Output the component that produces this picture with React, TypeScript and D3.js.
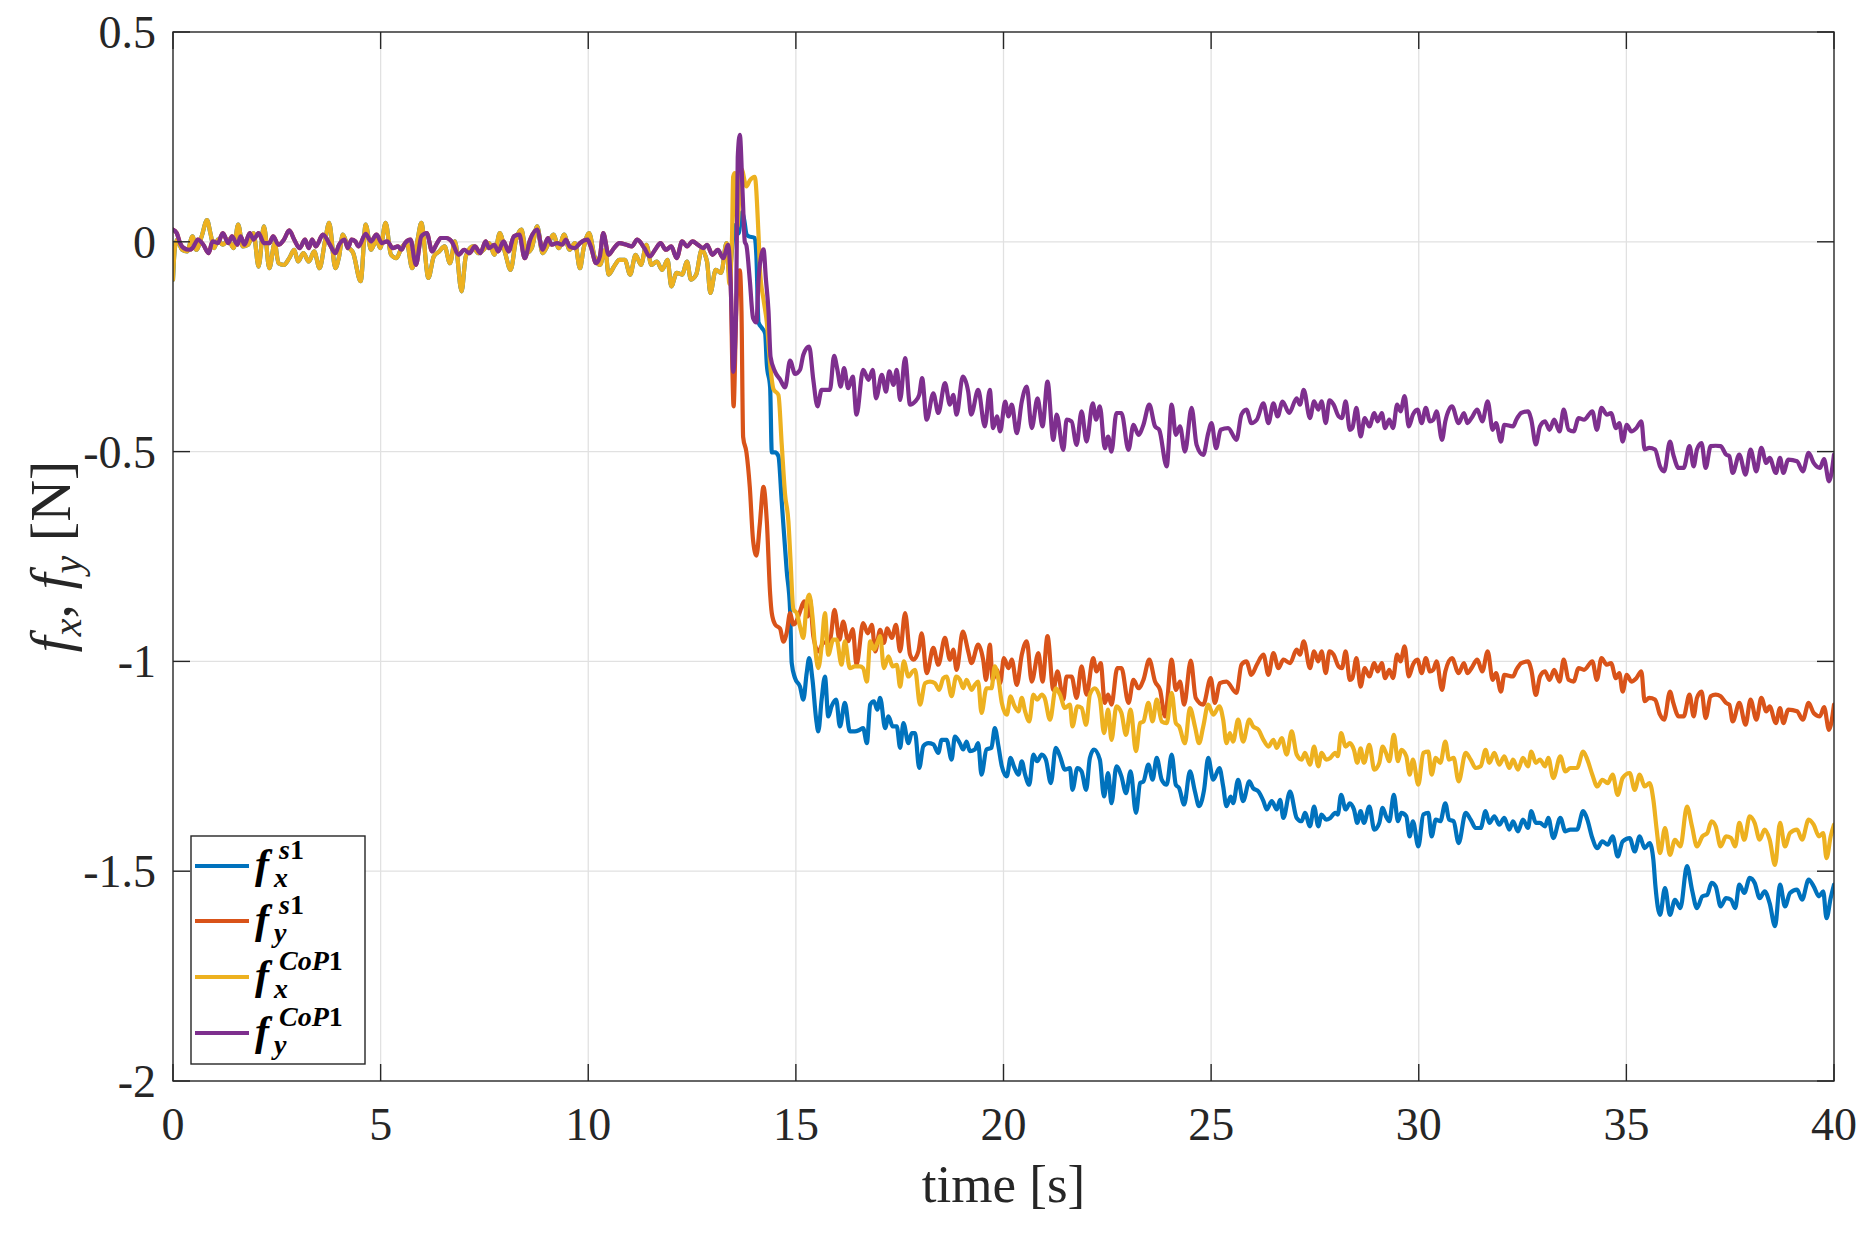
import React from "react";
import * as d3 from "d3";

type P = [number, number];

const xTicks = [0, 5, 10, 15, 20, 25, 30, 35, 40];
const yTicks = [0.5, 0, -0.5, -1, -1.5, -2];
const yTickLabels = ["0.5", "0", "-0.5", "-1", "-1.5", "-2"];

// f_y^CoP1 (purple)
const fyCoPEarly: P[] = [[0,0.029],[0.09,0.021],[0.17,-0.003],[0.26,-0.015],[0.39,-0.019],[0.47,-0.015],[0.60,0.005],[0.73,-0.007],[0.86,-0.027],[0.95,0.001],[1.08,-0.003],[1.20,0.021],[1.33,-0.003],[1.42,0.013],[1.55,-0.007],[1.63,0.013],[1.72,-0.007],[1.85,0.021],[1.94,0.005],[2.06,0.021],[2.19,-0.003],[2.32,-0.003],[2.41,0.013],[2.54,-0.007],[2.67,0.005],[2.80,0.027],[2.92,0.005],[3.05,-0.015],[3.18,0.005],[3.27,-0.015],[3.35,0.005],[3.44,-0.011],[3.61,0.017],[3.78,-0.007],[3.91,-0.027],[4.00,-0.007],[4.13,0.005],[4.21,-0.015],[4.30,0.005],[4.39,0.001],[4.47,-0.011],[4.64,0.019],[4.77,0.001],[4.90,0.017],[5.03,-0.003],[5.16,0.001],[5.29,-0.015],[5.42,-0.011],[5.50,-0.019],[5.59,-0.003],[5.72,0.005],[5.85,-0.055],[5.98,0.013],[6.11,0.021],[6.24,-0.023],[6.36,-0.003],[6.45,0.009],[6.58,0.009],[6.71,0.001],[6.88,-0.031],[7.01,-0.019],[7.14,-0.027],[7.27,-0.011],[7.40,-0.027],[7.53,0.001],[7.61,-0.015],[7.74,-0.007],[7.83,-0.023],[7.96,0.001],[8.08,-0.023],[8.21,0.013],[8.34,0.017],[8.47,-0.039],[8.60,0.005],[8.77,0.029],[8.90,-0.019],[9.03,0.009],[9.12,-0.007],[9.25,-0.003],[9.37,-0.007],[9.46,0.005],[9.55,-0.011],[9.68,-0.015],[9.80,-0.003],[9.98,0.005],[10.06,-0.011],[10.19,-0.051],[10.28,-0.035],[10.36,0.021],[10.49,-0.031],[10.62,-0.015],[10.75,-0.003],[10.92,-0.007],[11.05,-0.011],[11.18,0.005],[11.35,-0.015],[11.48,-0.035],[11.61,-0.019],[11.74,-0.003],[11.87,-0.019],[12.00,-0.011],[12.13,-0.039],[12.26,0.001],[12.38,-0.011],[12.51,0.001],[12.64,-0.007],[12.77,-0.015],[12.86,-0.007],[12.99,-0.031],[13.12,-0.019],[13.25,-0.039],[13.37,-0.007]];
const fyCoPSpike: P[] = [[13.45,-0.164],[13.49,-0.310],[13.56,-0.164],[13.60,0.201],[13.65,0.255],[13.72,0.109],[13.77,0.0],[13.81,-0.009],[13.89,-0.091],[13.97,-0.182],[14.05,-0.192],[14.10,-0.091],[14.18,-0.027],[14.22,-0.018],[14.28,-0.091],[14.34,-0.164],[14.39,-0.274],[14.50,-0.310],[14.62,-0.328],[14.74,-0.347],[14.86,-0.283],[14.98,-0.315]];
const fyCoPMid: P[] = [[15.10,-0.305],[15.18,-0.269],[15.32,-0.250],[15.42,-0.329],[15.52,-0.392],[15.62,-0.353],[15.82,-0.353],[15.92,-0.272],[16.00,-0.305],[16.08,-0.345],[16.16,-0.301],[16.26,-0.349],[16.37,-0.321],[16.46,-0.412],[16.62,-0.305],[16.75,-0.329],[16.85,-0.305],[16.93,-0.373],[17.07,-0.317],[17.17,-0.357],[17.25,-0.309],[17.35,-0.341],[17.43,-0.305],[17.51,-0.377],[17.63,-0.277],[17.75,-0.388],[17.87,-0.381],[17.97,-0.365],[18.04,-0.325],[18.15,-0.424],[18.31,-0.361],[18.43,-0.408],[18.59,-0.337],[18.71,-0.388],[18.79,-0.365],[18.87,-0.412],[19.02,-0.321],[19.15,-0.357],[19.22,-0.412],[19.39,-0.353],[19.55,-0.440],[19.67,-0.353],[19.75,-0.444],[19.84,-0.416],[19.92,-0.452],[20.04,-0.381],[20.12,-0.416],[20.20,-0.388],[20.32,-0.456],[20.44,-0.381],[20.56,-0.345],[20.68,-0.444],[20.82,-0.373],[20.94,-0.440],[21.06,-0.333],[21.20,-0.472],[21.28,-0.412],[21.44,-0.496],[21.52,-0.424],[21.64,-0.428],[21.76,-0.484],[21.88,-0.404],[22.00,-0.476],[22.15,-0.385],[22.23,-0.424],[22.32,-0.392],[22.44,-0.492],[22.52,-0.464],[22.60,-0.500],[22.72,-0.408],[22.84,-0.408],[23.01,-0.496],[23.13,-0.436],[23.25,-0.460],[23.37,-0.436],[23.51,-0.388],[23.65,-0.440],[23.75,-0.448],[23.93,-0.535],[24.05,-0.388],[24.15,-0.460],[24.25,-0.440],[24.37,-0.500],[24.53,-0.396],[24.65,-0.484],[24.81,-0.508],[24.93,-0.456],[25.01,-0.432],[25.12,-0.492],[25.23,-0.448],[25.41,-0.444],[25.61,-0.472],[25.73,-0.412],[25.85,-0.400],[25.97,-0.432],[26.10,-0.424],[26.26,-0.385],[26.38,-0.432],[26.50,-0.385],[26.60,-0.416],[26.72,-0.381],[26.88,-0.408],[27.06,-0.373],[27.14,-0.388],[27.23,-0.353]];
const fyCoPLate: P[] = [[27.38,-0.420],[27.48,-0.380],[27.58,-0.400],[27.66,-0.380],[27.76,-0.432],[27.85,-0.378],[27.95,-0.388],[28.07,-0.416],[28.15,-0.420],[28.24,-0.380],[28.34,-0.448],[28.40,-0.444],[28.50,-0.396],[28.60,-0.464],[28.70,-0.420],[28.81,-0.440],[28.93,-0.408],[29.01,-0.428],[29.11,-0.408],[29.19,-0.444],[29.29,-0.424],[29.38,-0.444],[29.48,-0.388],[29.56,-0.404],[29.66,-0.368],[29.76,-0.440],[29.86,-0.412],[29.97,-0.400],[30.07,-0.432],[30.17,-0.396],[30.27,-0.428],[30.35,-0.424],[30.43,-0.404],[30.56,-0.472],[30.64,-0.428],[30.80,-0.392],[30.96,-0.432],[31.09,-0.408],[31.17,-0.432],[31.27,-0.420],[31.41,-0.400],[31.53,-0.428],[31.66,-0.380],[31.78,-0.448],[31.86,-0.432],[31.98,-0.476],[32.06,-0.436],[32.27,-0.440],[32.35,-0.424],[32.47,-0.408],[32.63,-0.404],[32.71,-0.424],[32.82,-0.483],[32.92,-0.440],[33.04,-0.428],[33.15,-0.448],[33.26,-0.424],[33.39,-0.452],[33.49,-0.400],[33.61,-0.448],[33.73,-0.452],[33.85,-0.420],[33.98,-0.424],[34.18,-0.404],[34.29,-0.448],[34.40,-0.396],[34.53,-0.412],[34.63,-0.408],[34.75,-0.444],[34.83,-0.432],[34.91,-0.476],[35.01,-0.436],[35.12,-0.452],[35.24,-0.444],[35.36,-0.428],[35.44,-0.495],[35.55,-0.491],[35.69,-0.495],[35.81,-0.535],[35.91,-0.547],[36.05,-0.476],[36.13,-0.507],[36.26,-0.539],[36.38,-0.539],[36.52,-0.487],[36.62,-0.535],[36.70,-0.495],[36.81,-0.480],[36.91,-0.539],[37.03,-0.487],[37.15,-0.486],[37.27,-0.487],[37.40,-0.507],[37.48,-0.511],[37.56,-0.551],[37.72,-0.507],[37.87,-0.555],[37.99,-0.495],[38.13,-0.547],[38.25,-0.491],[38.37,-0.527],[38.45,-0.515],[38.60,-0.551],[38.70,-0.515],[38.78,-0.551],[38.90,-0.519],[39.11,-0.523],[39.25,-0.547],[39.39,-0.503],[39.51,-0.527],[39.66,-0.539],[39.76,-0.518],[39.88,-0.571],[40.00,-0.507]];

// f_x^CoP1 (yellow)
const fxCoPEarly: P[] = [[0,-0.090],[0.04,-0.019],[0.10,0.005],[0.22,-0.019],[0.34,-0.023],[0.47,0.013],[0.56,-0.019],[0.69,0.013],[0.82,0.052],[0.90,0.021],[0.99,-0.015],[1.08,0.005],[1.20,-0.007],[1.33,0.005],[1.46,-0.015],[1.57,0.041],[1.68,-0.011],[1.81,-0.007],[1.94,0.021],[2.06,-0.059],[2.19,0.037],[2.32,-0.063],[2.45,-0.003],[2.54,-0.051],[2.67,-0.055],[2.80,-0.039],[2.92,-0.019],[3.01,-0.047],[3.14,-0.027],[3.27,-0.047],[3.40,-0.023],[3.53,-0.063],[3.66,0.001],[3.76,0.045],[3.91,-0.063],[4.00,-0.035],[4.09,0.017],[4.21,-0.011],[4.34,-0.027],[4.52,-0.094],[4.64,0.041],[4.77,-0.019],[4.90,0.005],[4.99,-0.015],[5.12,0.045],[5.25,-0.031],[5.38,-0.039],[5.50,-0.015],[5.63,-0.003],[5.76,-0.063],[5.89,0.005],[5.98,0.045],[6.15,-0.086],[6.28,-0.035],[6.41,-0.023],[6.54,-0.011],[6.67,-0.051],[6.79,0.001],[6.95,-0.118],[7.05,-0.035],[7.22,-0.011],[7.35,-0.027],[7.48,-0.019],[7.61,-0.003],[7.74,-0.031],[7.87,0.021],[8.00,-0.027],[8.13,-0.067],[8.26,0.005],[8.39,0.029],[8.51,-0.027],[8.64,-0.015],[8.77,0.037],[8.90,-0.027],[9.03,-0.007],[9.16,0.017],[9.29,-0.015],[9.42,0.017],[9.55,-0.019],[9.68,-0.003],[9.80,-0.063],[9.89,-0.015],[10.02,0.021],[10.15,-0.035],[10.28,-0.055],[10.41,-0.019],[10.49,-0.078],[10.62,-0.059],[10.75,-0.043],[10.88,-0.043],[11.01,-0.078],[11.14,-0.031],[11.27,-0.055],[11.40,-0.007],[11.52,-0.055],[11.65,-0.047],[11.78,-0.067],[11.91,-0.043],[12.00,-0.106],[12.13,-0.074],[12.26,-0.078],[12.38,-0.047],[12.47,-0.090],[12.60,-0.078],[12.73,-0.019],[12.86,-0.047],[12.94,-0.122],[13.07,-0.067],[13.20,-0.074],[13.33,-0.003]];
const fxCoPSpike: P[] = [[13.40,-0.100],[13.46,0.0],[13.49,0.155],[13.53,0.164],[13.59,0.036],[13.64,0.109],[13.69,0.173],[13.81,0.132],[13.89,0.146],[14.01,0.155],[14.10,0.018],[14.14,-0.073],[14.22,-0.137],[14.30,-0.192],[14.38,-0.292],[14.46,-0.351],[14.58,-0.365],[14.66,-0.484],[14.74,-0.602],[14.82,-0.666],[14.87,-0.757],[14.94,-0.876],[15.02,-0.885]];
const fxCoPMid: P[] = [[15.10,-0.917],[15.18,-0.944],[15.26,-0.861],[15.32,-0.841],[15.40,-0.893],[15.46,-0.964],[15.54,-1.016],[15.62,-0.964],[15.70,-0.885],[15.78,-0.984],[15.90,-0.948],[15.98,-0.948],[16.10,-1.008],[16.18,-0.952],[16.30,-1.016],[16.42,-1.012],[16.54,-1.012],[16.62,-1.016],[16.71,-1.048],[16.79,-0.952],[16.88,-0.972],[16.96,-0.956],[17.03,-0.940],[17.12,-1.016],[17.23,-0.988],[17.33,-1.012],[17.43,-1.008],[17.51,-1.060],[17.60,-1.000],[17.71,-1.036],[17.81,-1.024],[17.87,-1.020],[17.99,-1.103],[18.11,-1.052],[18.23,-1.048],[18.35,-1.052],[18.45,-1.068],[18.55,-1.040],[18.63,-1.036],[18.75,-1.083],[18.86,-1.036],[18.95,-1.044],[19.03,-1.064],[19.11,-1.044],[19.23,-1.068],[19.31,-1.056],[19.39,-1.048],[19.47,-1.123],[19.59,-1.064],[19.71,-1.064],[19.79,-1.012],[19.88,-1.044],[19.96,-1.099],[20.08,-1.127],[20.17,-1.083],[20.25,-1.103],[20.36,-1.119],[20.44,-1.087],[20.52,-1.119],[20.62,-1.143],[20.72,-1.079],[20.81,-1.091],[20.92,-1.079],[20.99,-1.087],[21.12,-1.139],[21.26,-1.064],[21.36,-1.079],[21.48,-1.111],[21.60,-1.103],[21.66,-1.155],[21.78,-1.107],[21.88,-1.111],[21.99,-1.151],[22.08,-1.079],[22.20,-1.064],[22.32,-1.087],[22.42,-1.171],[22.52,-1.115],[22.60,-1.187],[22.72,-1.107],[22.84,-1.123],[22.95,-1.175],[23.06,-1.115],[23.19,-1.214],[23.29,-1.147],[23.37,-1.143],[23.49,-1.099],[23.59,-1.143],[23.69,-1.091],[23.81,-1.143],[23.93,-1.147],[24.05,-1.075],[24.15,-1.147],[24.23,-1.155],[24.37,-1.195],[24.49,-1.111],[24.61,-1.155],[24.71,-1.195],[24.81,-1.155],[24.93,-1.103],[25.05,-1.127],[25.20,-1.107],[25.29,-1.139],[25.37,-1.195],[25.45,-1.171],[25.53,-1.191],[25.65,-1.139],[25.77,-1.191],[25.92,-1.139],[26.01,-1.155],[26.14,-1.163],[26.26,-1.187],[26.38,-1.203],[26.50,-1.187],[26.58,-1.206],[26.70,-1.183],[26.82,-1.222],[26.94,-1.167],[27.06,-1.222],[27.18,-1.234],[27.26,-1.218]];
const fxCoPLate: P[] = [[27.38,-1.246],[27.48,-1.203],[27.58,-1.250],[27.66,-1.218],[27.77,-1.234],[27.87,-1.230],[27.99,-1.218],[28.05,-1.226],[28.13,-1.171],[28.24,-1.203],[28.34,-1.195],[28.44,-1.211],[28.52,-1.242],[28.60,-1.207],[28.68,-1.242],[28.81,-1.199],[28.93,-1.258],[29.05,-1.242],[29.13,-1.203],[29.21,-1.218],[29.29,-1.238],[29.40,-1.175],[29.50,-1.238],[29.58,-1.211],[29.70,-1.226],[29.78,-1.270],[29.86,-1.234],[29.99,-1.294],[30.11,-1.218],[30.23,-1.215],[30.31,-1.270],[30.41,-1.230],[30.52,-1.242],[30.64,-1.191],[30.73,-1.234],[30.84,-1.230],[30.96,-1.286],[31.13,-1.218],[31.25,-1.234],[31.37,-1.254],[31.49,-1.250],[31.61,-1.211],[31.70,-1.242],[31.82,-1.218],[31.94,-1.246],[32.06,-1.226],[32.18,-1.254],[32.27,-1.234],[32.39,-1.258],[32.51,-1.230],[32.63,-1.250],[32.71,-1.215],[32.82,-1.242],[32.92,-1.234],[33.04,-1.250],[33.12,-1.230],[33.24,-1.278],[33.41,-1.226],[33.53,-1.262],[33.65,-1.254],[33.81,-1.254],[33.96,-1.215],[34.06,-1.234],[34.18,-1.270],[34.30,-1.298],[34.42,-1.282],[34.55,-1.290],[34.67,-1.270],[34.79,-1.318],[34.91,-1.278],[35.08,-1.266],[35.20,-1.306],[35.32,-1.270],[35.44,-1.298],[35.56,-1.290],[35.65,-1.330],[35.73,-1.401],[35.81,-1.457],[35.93,-1.397],[36.05,-1.461],[36.17,-1.425],[36.30,-1.441],[36.46,-1.346],[36.58,-1.393],[36.70,-1.441],[36.83,-1.417],[36.95,-1.409],[37.05,-1.381],[37.15,-1.393],[37.27,-1.441],[37.40,-1.417],[37.52,-1.421],[37.62,-1.441],[37.72,-1.385],[37.84,-1.425],[37.97,-1.369],[38.09,-1.385],[38.21,-1.425],[38.33,-1.401],[38.45,-1.425],[38.58,-1.485],[38.70,-1.385],[38.82,-1.441],[38.94,-1.409],[39.11,-1.401],[39.23,-1.425],[39.39,-1.377],[39.51,-1.389],[39.64,-1.417],[39.74,-1.409],[39.82,-1.469],[39.92,-1.417],[40.00,-1.389]];

// f_y^s1 (red); before the step it lies under the purple trace
const fyS1Spike: P[] = [[13.42,-0.050],[13.47,-0.300],[13.50,-0.392],[13.56,-0.182],[13.61,-0.073],[13.65,-0.068],[13.69,-0.164],[13.73,-0.465],[13.81,-0.502],[13.89,-0.584],[13.97,-0.712],[14.05,-0.748],[14.13,-0.675],[14.22,-0.584],[14.30,-0.666],[14.38,-0.839],[14.42,-0.885],[14.50,-0.912],[14.62,-0.922],[14.70,-0.953],[14.78,-0.931],[14.86,-0.885],[14.94,-0.912],[15.02,-0.903]];
const fyS1Mid: P[] = [[15.10,-0.881],[15.20,-0.857],[15.28,-0.893],[15.34,-0.853],[15.42,-0.940],[15.54,-0.976],[15.66,-0.956],[15.82,-0.952],[15.93,-0.877],[16.05,-0.948],[16.14,-0.905],[16.26,-0.952],[16.37,-0.923],[16.46,-1.008],[16.62,-0.909],[16.73,-0.933],[16.83,-0.913],[16.91,-0.976],[17.03,-0.925],[17.12,-0.956],[17.20,-0.921],[17.31,-0.944],[17.41,-0.913],[17.51,-0.976],[17.63,-0.885],[17.75,-0.984],[17.83,-0.996],[17.95,-0.976],[18.03,-0.933],[18.15,-1.028],[18.31,-0.968],[18.43,-1.008],[18.59,-0.944],[18.71,-0.996],[18.79,-0.972],[18.87,-1.020],[19.02,-0.929],[19.15,-0.976],[19.23,-1.004],[19.39,-0.960],[19.51,-0.996],[19.58,-1.044],[19.67,-0.960],[19.74,-1.044],[19.84,-1.020],[19.92,-1.052],[20.01,-0.992],[20.12,-1.016],[20.20,-0.996],[20.32,-1.056],[20.44,-0.984],[20.56,-0.952],[20.68,-1.048],[20.84,-0.980],[20.94,-1.048],[21.06,-0.940],[21.20,-1.068],[21.30,-1.024],[21.44,-1.091],[21.52,-1.036],[21.64,-1.036],[21.76,-1.087],[21.88,-1.012],[22.00,-1.079],[22.16,-0.992],[22.24,-1.024],[22.34,-1.004],[22.44,-1.099],[22.52,-1.079],[22.60,-1.103],[22.74,-1.016],[22.84,-1.016],[23.01,-1.099],[23.13,-1.044],[23.25,-1.064],[23.37,-1.044],[23.51,-0.996],[23.65,-1.048],[23.77,-1.068],[23.89,-1.131],[24.05,-0.996],[24.15,-1.068],[24.25,-1.048],[24.35,-1.103],[24.51,-0.998],[24.63,-1.087],[24.81,-1.103],[24.99,-1.040],[25.09,-1.099],[25.21,-1.052],[25.37,-1.048],[25.61,-1.075],[25.73,-1.008],[25.85,-1.000],[25.97,-1.032],[26.10,-1.008],[26.26,-0.984],[26.38,-1.032],[26.50,-0.980],[26.62,-1.016],[26.74,-0.996],[26.90,-1.004],[27.06,-0.972],[27.14,-0.984],[27.23,-0.952]];
const fyS1Late: P[] = [[27.38,-1.016],[27.48,-0.976],[27.58,-1.000],[27.66,-0.976],[27.76,-1.028],[27.85,-0.976],[27.95,-0.984],[28.07,-1.012],[28.15,-1.016],[28.24,-0.976],[28.34,-1.044],[28.40,-1.040],[28.50,-0.992],[28.60,-1.060],[28.70,-1.016],[28.81,-1.036],[28.93,-1.004],[29.01,-1.024],[29.11,-1.004],[29.19,-1.040],[29.29,-1.020],[29.38,-1.040],[29.48,-0.984],[29.56,-1.000],[29.66,-0.964],[29.76,-1.036],[29.86,-1.008],[29.97,-0.996],[30.07,-1.028],[30.17,-0.992],[30.27,-1.024],[30.35,-1.020],[30.43,-1.000],[30.56,-1.068],[30.64,-1.024],[30.80,-0.992],[30.96,-1.028],[31.09,-1.004],[31.17,-1.028],[31.27,-1.016],[31.41,-0.996],[31.53,-1.024],[31.66,-0.976],[31.78,-1.044],[31.86,-1.028],[31.98,-1.072],[32.06,-1.032],[32.27,-1.036],[32.35,-1.020],[32.47,-1.004],[32.63,-1.000],[32.71,-1.020],[32.82,-1.080],[32.92,-1.036],[33.04,-1.024],[33.15,-1.044],[33.26,-1.020],[33.39,-1.048],[33.49,-0.996],[33.61,-1.044],[33.73,-1.048],[33.85,-1.016],[33.98,-1.020],[34.18,-1.000],[34.29,-1.044],[34.40,-0.992],[34.53,-1.008],[34.63,-1.004],[34.75,-1.040],[34.83,-1.028],[34.91,-1.072],[35.01,-1.032],[35.12,-1.048],[35.24,-1.040],[35.36,-1.024],[35.44,-1.095],[35.55,-1.087],[35.69,-1.091],[35.81,-1.127],[35.91,-1.139],[36.05,-1.072],[36.13,-1.099],[36.26,-1.131],[36.38,-1.131],[36.52,-1.079],[36.62,-1.131],[36.70,-1.087],[36.81,-1.072],[36.91,-1.135],[37.03,-1.083],[37.15,-1.079],[37.27,-1.083],[37.40,-1.099],[37.48,-1.103],[37.56,-1.143],[37.72,-1.099],[37.87,-1.151],[37.99,-1.091],[38.13,-1.139],[38.25,-1.087],[38.37,-1.119],[38.45,-1.107],[38.60,-1.147],[38.70,-1.111],[38.78,-1.147],[38.90,-1.115],[39.11,-1.119],[39.25,-1.139],[39.39,-1.099],[39.51,-1.123],[39.66,-1.131],[39.76,-1.109],[39.88,-1.163],[40.00,-1.103]];

// f_x^s1 (blue); before the step it lies under the yellow trace
const fxS1Spike: P[] = [[13.40,-0.080],[13.46,-0.020],[13.53,0.040],[13.62,0.020],[13.70,0.070],[13.76,0.050],[13.81,0.018],[13.85,0.014],[14.01,0.009],[14.05,-0.036],[14.10,-0.192],[14.18,-0.205],[14.26,-0.219],[14.30,-0.292],[14.38,-0.347],[14.42,-0.502],[14.50,-0.502],[14.58,-0.511],[14.66,-0.620],[14.78,-0.785],[14.86,-0.876],[14.90,-1.004],[14.98,-1.040]];
const fxS1Mid: P[] = [[15.10,-1.060],[15.18,-1.091],[15.26,-1.028],[15.32,-0.992],[15.40,-1.044],[15.49,-1.139],[15.54,-1.167],[15.62,-1.091],[15.70,-1.036],[15.78,-1.131],[15.86,-1.107],[15.97,-1.091],[16.06,-1.155],[16.18,-1.099],[16.30,-1.167],[16.42,-1.167],[16.54,-1.163],[16.62,-1.159],[16.71,-1.195],[16.79,-1.103],[16.88,-1.095],[16.96,-1.115],[17.03,-1.087],[17.15,-1.159],[17.23,-1.131],[17.33,-1.155],[17.43,-1.155],[17.51,-1.206],[17.59,-1.147],[17.71,-1.195],[17.79,-1.171],[17.87,-1.171],[17.97,-1.254],[18.07,-1.202],[18.19,-1.195],[18.31,-1.198],[18.43,-1.218],[18.51,-1.187],[18.63,-1.187],[18.75,-1.234],[18.83,-1.179],[18.95,-1.195],[19.03,-1.210],[19.11,-1.191],[19.19,-1.214],[19.31,-1.210],[19.39,-1.195],[19.47,-1.270],[19.59,-1.210],[19.71,-1.206],[19.79,-1.159],[19.88,-1.203],[19.96,-1.250],[20.08,-1.274],[20.17,-1.230],[20.25,-1.250],[20.36,-1.270],[20.44,-1.238],[20.52,-1.270],[20.62,-1.294],[20.72,-1.222],[20.81,-1.238],[20.92,-1.222],[21.02,-1.234],[21.14,-1.290],[21.26,-1.206],[21.36,-1.226],[21.48,-1.258],[21.60,-1.254],[21.66,-1.306],[21.78,-1.254],[21.88,-1.262],[21.99,-1.306],[22.08,-1.230],[22.18,-1.210],[22.32,-1.234],[22.42,-1.322],[22.52,-1.266],[22.60,-1.338],[22.72,-1.250],[22.84,-1.274],[22.95,-1.314],[23.06,-1.262],[23.19,-1.361],[23.29,-1.290],[23.37,-1.286],[23.49,-1.246],[23.59,-1.282],[23.69,-1.230],[23.81,-1.282],[23.93,-1.294],[24.05,-1.222],[24.15,-1.294],[24.23,-1.302],[24.35,-1.341],[24.49,-1.262],[24.61,-1.310],[24.71,-1.345],[24.83,-1.306],[24.93,-1.230],[25.05,-1.282],[25.20,-1.254],[25.29,-1.298],[25.37,-1.345],[25.47,-1.322],[25.53,-1.338],[25.65,-1.282],[25.77,-1.333],[25.92,-1.286],[26.01,-1.302],[26.14,-1.310],[26.26,-1.333],[26.34,-1.353],[26.46,-1.333],[26.58,-1.353],[26.66,-1.330],[26.74,-1.373],[26.90,-1.310],[27.06,-1.373],[27.18,-1.381],[27.26,-1.361]];
const fxS1Late: P[] = [[27.38,-1.393],[27.48,-1.346],[27.58,-1.393],[27.66,-1.365],[27.77,-1.377],[27.87,-1.373],[27.99,-1.361],[28.05,-1.365],[28.13,-1.318],[28.24,-1.353],[28.34,-1.338],[28.44,-1.353],[28.52,-1.385],[28.60,-1.357],[28.68,-1.385],[28.81,-1.346],[28.93,-1.401],[29.05,-1.385],[29.13,-1.349],[29.21,-1.369],[29.29,-1.381],[29.40,-1.318],[29.50,-1.381],[29.58,-1.361],[29.70,-1.369],[29.78,-1.417],[29.86,-1.381],[29.99,-1.441],[30.11,-1.365],[30.23,-1.361],[30.31,-1.417],[30.41,-1.377],[30.52,-1.381],[30.64,-1.338],[30.73,-1.377],[30.84,-1.381],[30.96,-1.433],[31.13,-1.361],[31.25,-1.377],[31.37,-1.397],[31.49,-1.397],[31.61,-1.357],[31.70,-1.385],[31.82,-1.369],[31.94,-1.389],[32.06,-1.373],[32.18,-1.401],[32.27,-1.381],[32.39,-1.405],[32.51,-1.377],[32.63,-1.397],[32.71,-1.357],[32.82,-1.385],[32.92,-1.385],[33.04,-1.393],[33.12,-1.373],[33.24,-1.421],[33.41,-1.373],[33.53,-1.405],[33.65,-1.401],[33.81,-1.401],[33.96,-1.357],[34.06,-1.377],[34.18,-1.421],[34.30,-1.445],[34.42,-1.429],[34.55,-1.437],[34.67,-1.417],[34.79,-1.465],[34.91,-1.429],[35.08,-1.421],[35.20,-1.453],[35.32,-1.417],[35.44,-1.445],[35.56,-1.433],[35.65,-1.473],[35.70,-1.536],[35.81,-1.604],[35.93,-1.540],[36.05,-1.604],[36.17,-1.568],[36.30,-1.588],[36.46,-1.488],[36.58,-1.544],[36.70,-1.588],[36.83,-1.560],[36.95,-1.556],[37.05,-1.528],[37.15,-1.536],[37.27,-1.584],[37.40,-1.564],[37.52,-1.568],[37.62,-1.588],[37.72,-1.532],[37.84,-1.552],[37.97,-1.516],[38.09,-1.528],[38.21,-1.564],[38.33,-1.548],[38.45,-1.576],[38.58,-1.631],[38.70,-1.532],[38.82,-1.584],[38.94,-1.552],[39.11,-1.544],[39.23,-1.568],[39.39,-1.520],[39.51,-1.536],[39.64,-1.560],[39.74,-1.548],[39.82,-1.612],[39.92,-1.564],[40.00,-1.532]];

const seriesNames = ["fxs1", "fys1", "fxcop", "fycop"];
const seriesColors = ["#0072BD", "#D95319", "#EDB120", "#7E2F8E"];
const seriesData: P[][] = [
  [...fxCoPEarly, ...fxS1Spike, ...fxS1Mid, ...fxS1Late],
  [...fyCoPEarly, ...fyS1Spike, ...fyS1Mid, ...fyS1Late],
  [...fxCoPEarly, ...fxCoPSpike, ...fxCoPMid, ...fxCoPLate],
  [...fyCoPEarly, ...fyCoPSpike, ...fyCoPMid, ...fyCoPLate],
];
const legendSup = ["s1", "s1", "CoP1", "CoP1"];
const legendSub = ["x", "y", "x", "y"];

const W = 1871;
const H = 1233;
const L = 173, R = 1834, T = 32, B = 1081;
const AX = "#262626";
const GRID = "#e1e1e1";
const SERIF = "'Liberation Serif', 'Times New Roman', Times, serif";

function SupText({ s }: { s: string }) {
  const parts = s.match(/[A-Za-z]+|[0-9]+/g) || [];
  return (
    <>
      {parts.map((p, k) => (
        <tspan key={k} fontStyle={/[0-9]/.test(p) ? "normal" : "italic"}>{p}</tspan>
      ))}
    </>
  );
}

export default function App() {
  const x = d3.scaleLinear().domain([0, 40]).range([L, R]);
  const y = d3.scaleLinear().domain([-2, 0.5]).range([B, T]);
  const line = d3.line<P>().x((d) => x(d[0])).y((d) => y(d[1])).curve(d3.curveMonotoneX);
  const tickLen = 17;

  const legX = 191, legY = 836, legW = 174, legH = 228;
  const rowY = [866, 921, 977, 1033];

  return (
    <div style={{ position: "absolute", left: 0, top: 0, width: W, height: H, background: "#fff" }}>
      <svg width={W} height={H} viewBox={`0 0 ${W} ${H}`} style={{ display: "block" }}>
        <rect x={0} y={0} width={W} height={H} fill="#fff" />
        <defs>
          <clipPath id="plotclip">
            <rect x={L} y={T} width={R - L} height={B - T} />
          </clipPath>
        </defs>
        <g stroke={GRID} strokeWidth={1.3}>
          {xTicks.slice(1, -1).map((t) => (
            <line key={"gx" + t} x1={x(t)} x2={x(t)} y1={T} y2={B} />
          ))}
          {yTicks.slice(1, -1).map((t) => (
            <line key={"gy" + t} x1={L} x2={R} y1={y(t)} y2={y(t)} />
          ))}
        </g>
        <g clipPath="url(#plotclip)" fill="none" strokeLinejoin="round" strokeLinecap="round">
          {seriesData.map((d, i) => (
            <path key={seriesNames[i]} d={line(d) || ""} stroke={seriesColors[i]} strokeWidth={4.2} />
          ))}
        </g>
        <g stroke={AX} strokeWidth={1.4} fill="none">
          <rect x={L} y={T} width={R - L} height={B - T} />
          {xTicks.map((t) => (
            <g key={"tx" + t}>
              <line x1={x(t)} x2={x(t)} y1={B} y2={B - tickLen} />
              <line x1={x(t)} x2={x(t)} y1={T} y2={T + tickLen} />
            </g>
          ))}
          {yTicks.map((t) => (
            <g key={"ty" + t}>
              <line x1={L} x2={L + tickLen} y1={y(t)} y2={y(t)} />
              <line x1={R} x2={R - tickLen} y1={y(t)} y2={y(t)} />
            </g>
          ))}
        </g>
        <g fontFamily={SERIF} fontSize={46} fill={AX}>
          {xTicks.map((t) => (
            <text key={"lx" + t} x={x(t)} y={1140} textAnchor="middle">{t}</text>
          ))}
          {yTicks.map((t, i) => (
            <text key={"ly" + t} x={156} y={y(t) + 16} textAnchor="end">{yTickLabels[i]}</text>
          ))}
        </g>
        <text x={(L + R) / 2} y={1202} textAnchor="middle" fontFamily={SERIF} fontSize={53} fill={AX}>time [s]</text>
        <g transform={`translate(70, ${(T + B) / 2}) rotate(-90)`}>
          <text x={0} y={0} textAnchor="middle" fontFamily={SERIF} fontSize={58} fill={AX}>
            <tspan fontStyle="italic">f</tspan>
            <tspan fontStyle="italic" fontSize={40} dy={11}>x</tspan>
            <tspan dy={-11}>, </tspan>
            <tspan fontStyle="italic">f</tspan>
            <tspan fontStyle="italic" fontSize={40} dy={11}>y</tspan>
            <tspan dy={-11}> [N]</tspan>
          </text>
        </g>
        <rect x={legX} y={legY} width={legW} height={legH} fill="#fff" stroke={AX} strokeWidth={1.4} />
        {seriesNames.map((n, i) => (
          <g key={"leg" + n}>
            <line x1={195} x2={249} y1={rowY[i]} y2={rowY[i]} stroke={seriesColors[i]} strokeWidth={4.2} />
            <text fontFamily={SERIF} fontWeight="bold" fill="#000">
              <tspan x={255} y={rowY[i] + 12} fontSize={42} fontStyle="italic">f</tspan>
              <tspan x={279} y={rowY[i] - 7} fontSize={28}><SupText s={legendSup[i]} /></tspan>
              <tspan x={274} y={rowY[i] + 21} fontSize={28} fontStyle="italic">{legendSub[i]}</tspan>
            </text>
          </g>
        ))}
      </svg>
    </div>
  );
}
